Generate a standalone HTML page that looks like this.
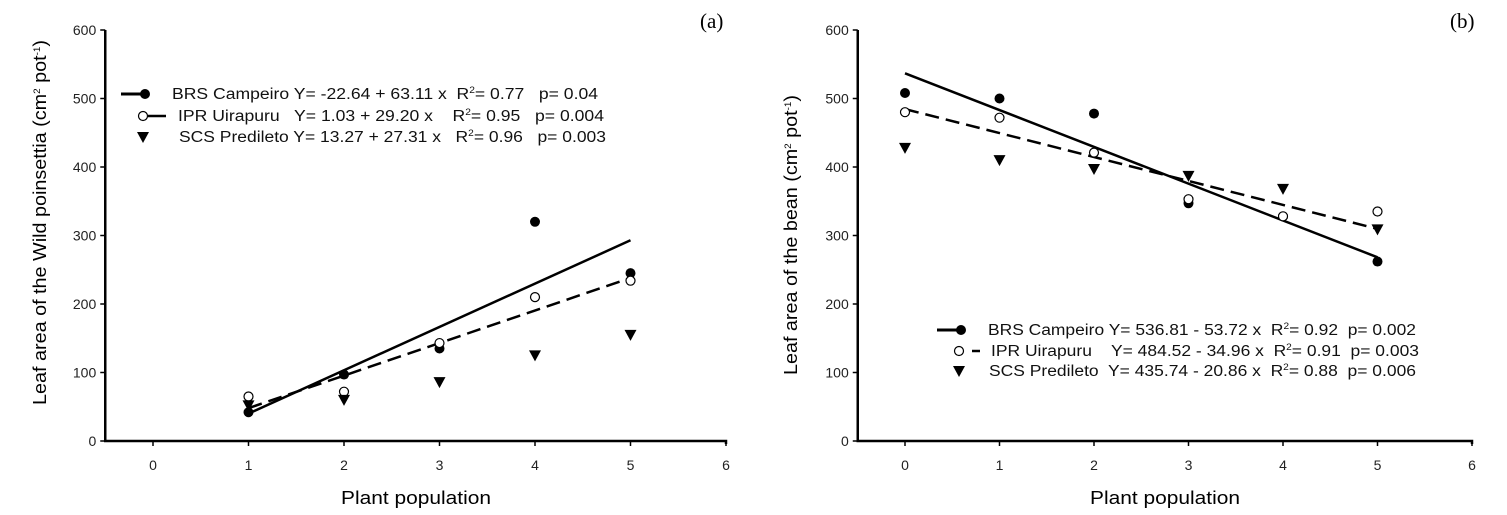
<!DOCTYPE html>
<html><head><meta charset="utf-8"><style>
body{margin:0;background:#fff}
svg{display:block;font-family:"Liberation Sans",sans-serif}
</style></head><body>
<svg id="s" width="1507" height="515" viewBox="0 0 1507 515"></svg>
<script>
// Panel (a) data
const xA = [1,2,3,4,5];
const brsA = [42,97,135,320,245];
const iprA = [65,72,143,210,234];
const scsA = [52,60,86,125,155];
const fitBrsA = [40,293];
const fitIprA = [48,238];
// Panel (b) data
const xB = [0,1,2,3,4,5];
const brsB = [508,500,478,347,328,262];
const iprB = [480,472,421,353,328,335];
const scsB = [428,410,397,387,368,309];
const fitBrsB = [536.81,268.2];
const fitIprB = [484.52,309.7];
const xTicks = [0,1,2,3,4,5,6];
const yTicks = [0,100,200,300,400,500,600];

const NS="http://www.w3.org/2000/svg";
const svg=document.getElementById('s');
function el(t,a,p){const e=document.createElementNS(NS,t);for(const k in a)e.setAttribute(k,a[k]);(p||svg).appendChild(e);return e;}
function txt(s,a,p){const e=el('text',a,p);e.textContent=s;return e;}

function panel(cfg){
  const g=el('g',{});
  
  
  const X=v=>cfg.x0+(v-cfg.xmin)*cfg.ux;
  const Y=v=>441-v*411/600;
  const ax=el('path',{d:`M${X(-0.5)},${Y(600)} V${Y(0)} H${X(6)} v3`,fill:'none',stroke:'#000','stroke-width':2.5},g);
  
  
  yTicks.forEach(v=>{
    el('line',{x1:X(-0.5)-5,x2:X(-0.5),y1:Y(v),y2:Y(v),stroke:'#000','stroke-width':1.5},g);
    const t=txt(String(v),{x:X(-0.5)-9,y:Y(v)+5,'text-anchor':'end','font-size':14,fill:'#222'},g);
    
    
  });
  xTicks.forEach(v=>{
    el('line',{x1:X(v),x2:X(v),y1:Y(0),y2:Y(0)+5,stroke:'#000','stroke-width':1.5},g);
    const t=txt(String(v),{x:X(v),y:470,'text-anchor':'middle','font-size':14,fill:'#222'},g);
    
    
  });
  const xt=txt('Plant population',{x:cfg.xtx,y:504,'font-size':18,textLength:150,lengthAdjust:'spacingAndGlyphs'},g);
  
  
  const yt=el('text',{transform:`translate(${cfg.ytx},${cfg.yty}) rotate(-90)`,'font-size':18,textLength:cfg.ytl,lengthAdjust:'spacingAndGlyphs'},g);
  yt.innerHTML=cfg.ytitle;
  
  
  const lb=txt(cfg.label,{x:cfg.lx,y:28,'font-family':'Liberation Serif,serif','font-size':21},g);
  
  
  const f1=el('line',{x1:X(cfg.fx[0]),x2:X(cfg.fx[1]),y1:Y(cfg.fb[0]),y2:Y(cfg.fb[1]),stroke:'#000','stroke-width':2.5},g);
  
  
  const f2=el('line',{x1:X(cfg.fx[0]),x2:X(cfg.fx[1]),y1:Y(cfg.fi[0]),y2:Y(cfg.fi[1]),stroke:'#000','stroke-width':2.5,'stroke-dasharray':'14,7'},g);
  
  
  cfg.xs.forEach((x,i)=>{
    const c=el('circle',{cx:X(x),cy:Y(cfg.b[i]),r:5,fill:'#000'},g);
    
    
  });
  cfg.xs.forEach((x,i)=>{
    const c=el('circle',{cx:X(x),cy:Y(cfg.i[i]),r:4.5,fill:'#fff',stroke:'#000','stroke-width':1.2},g);
    
    
  });
  cfg.xs.forEach((x,i)=>{
    const cx=X(x),cy=Y(cfg.s[i]);
    const p=el('path',{d:`M${cx-6},${cy-5} L${cx+6},${cy-5} L${cx},${cy+6} Z`,fill:'#000'},g);
    
    
  });
  const L=cfg.leg;
  const lg=el('g',{},g);
  
  
  el('line',{x1:L.x,x2:L.x+24,y1:L.y[0],y2:L.y[0],stroke:'#000','stroke-width':3},lg);
  el('circle',{cx:L.x+24,cy:L.y[0],r:5,fill:'#000'},lg);
  el('circle',{cx:L.x+22,cy:L.y[1],r:4.5,fill:'#fff',stroke:'#000','stroke-width':1.2},lg);
  el('line',{x1:L.dl[0],x2:L.dl[1],y1:L.y[1],y2:L.y[1],stroke:'#000','stroke-width':2.5},lg);
  const tx=L.x+22, ty=L.y[2];
  el('path',{d:`M${tx-6},${ty-5} L${tx+6},${ty-5} L${tx},${ty+6} Z`,fill:'#000'},lg);
  L.t.forEach((s,k)=>{
    const t=el('text',{x:L.tx[k],y:L.y[k]+5,'font-size':15.5,fill:'#111',textLength:L.tl[k],lengthAdjust:'spacingAndGlyphs'},lg);
    t.innerHTML=s;
    
    
  });
}
const sup=s=>`<tspan dy="-6" font-size="9">${s}</tspan><tspan dy="6">`;
panel({name:'panel-a',x0:153,xmin:0,ux:95.5,xs:xA,b:brsA,i:iprA,s:scsA,fx:[1,5],fb:fitBrsA,fi:fitIprA,
  label:'(a)',lx:700,ytx:46,yty:405,ytl:365,xtx:341,
  ytitle:`Leaf area of the Wild poinsettia (cm${sup('2')} pot${sup('-1')})</tspan></tspan>`,
  leg:{x:121,dl:[148,166],y:[94,116,137],tx:[172,178,179],tl:[426,426,427],
   t:['BRS Campeiro Y= -22.64 + 63.11 x&#160; R'+sup('2')+'= 0.77&#160;&#160; p= 0.04</tspan>',
      'IPR Uirapuru&#160;&#160; Y= 1.03 + 29.20 x&#160;&#160;&#160; R'+sup('2')+'= 0.95&#160;&#160; p= 0.004</tspan>',
      'SCS Predileto Y= 13.27 + 27.31 x&#160;&#160; R'+sup('2')+'= 0.96&#160;&#160; p= 0.003</tspan>']}});
panel({name:'panel-b',x0:905,xmin:0,ux:94.5,xs:xB,b:brsB,i:iprB,s:scsB,fx:[0,5],fb:fitBrsB,fi:fitIprB,
  label:'(b)',lx:1450,ytx:797,yty:375,ytl:280,xtx:1090,
  ytitle:`Leaf area of the bean (cm${sup('2')} pot${sup('-1')})</tspan></tspan>`,
  leg:{x:937,dl:[972,980],y:[330,351,371],tx:[988,991,989],tl:[428,428,427],
   t:['BRS Campeiro Y= 536.81 - 53.72 x&#160; R'+sup('2')+'= 0.92&#160; p= 0.002</tspan>',
      'IPR Uirapuru&#160;&#160;&#160; Y= 484.52 - 34.96 x&#160; R'+sup('2')+'= 0.91&#160; p= 0.003</tspan>',
      'SCS Predileto&#160; Y= 435.74 - 20.86 x&#160; R'+sup('2')+'= 0.88&#160; p= 0.006</tspan>']}});
</script>
</body></html>
